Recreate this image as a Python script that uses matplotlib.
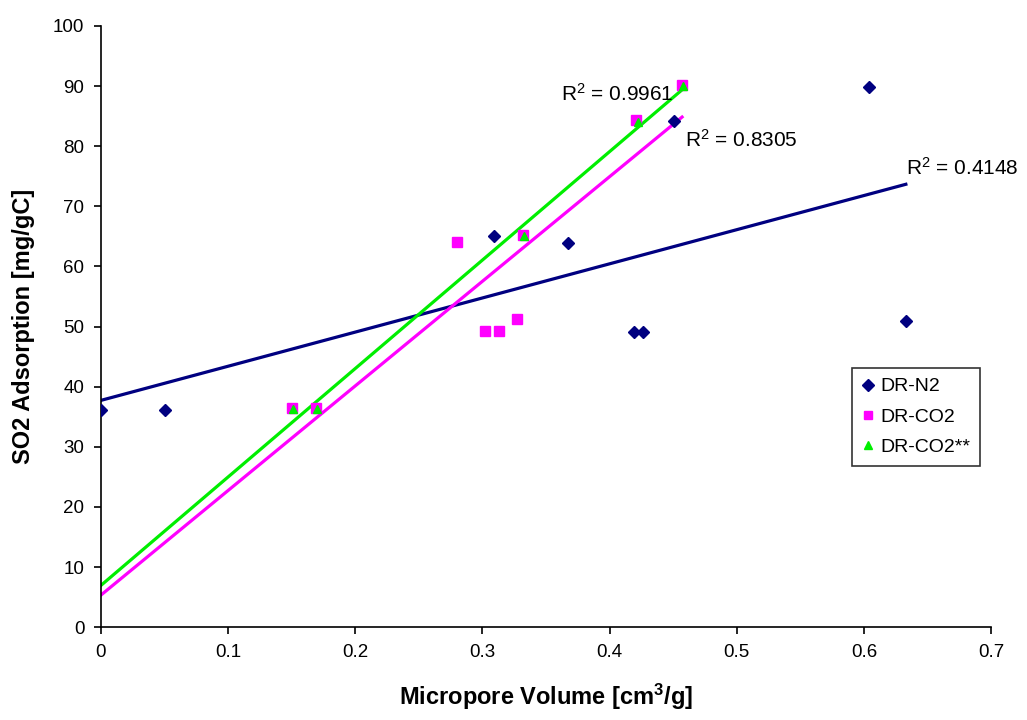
import matplotlib.pyplot as plt
import numpy as np

plt.rcParams['font.family'] = ['Liberation Sans', 'DejaVu Sans']

# DR-N2
n2_x = np.array([0.0, 0.05, 0.309, 0.367, 0.419, 0.426, 0.451, 0.604, 0.633])
n2_y = np.array([36.1, 36.1, 65.1, 63.9, 49.1, 49.1, 84.2, 89.9, 51.0])

# DR-CO2
co2_x = np.array([0.150, 0.169, 0.280, 0.302, 0.313, 0.327, 0.332, 0.421, 0.457])
co2_y = np.array([36.4, 36.4, 64.1, 49.3, 49.3, 51.2, 65.3, 84.4, 90.2])

# DR-CO2**
co2s_x = np.array([0.151, 0.170, 0.333, 0.422, 0.458])
co2s_y = np.array([36.2, 36.2, 65.0, 84.0, 90.0])

r2_labels = ['0.4148', '0.8305', '0.9961']

navy = '#000080'
magenta = '#ff00ff'
green = '#00ee00'

fig = plt.figure(figsize=(10.27, 7.2), dpi=100)
ax = fig.add_axes([0.0983, 0.129, 0.8667, 0.835])

ax.plot(n2_x, n2_y, 'D', color=navy, markersize=6.5, label='DR-N2', zorder=3)
ax.plot(co2_x, co2_y, 's', color=magenta, markersize=7, label='DR-CO2', zorder=3)
ax.plot(co2s_x, co2s_y, '^', color=green, markersize=6, label='DR-CO2**', zorder=4)

# linear trend lines, drawn from 0 to the last point
for xs, ys, c in [(n2_x, n2_y, navy), (co2_x, co2_y, magenta), (co2s_x, co2s_y, green)]:
    k, b = np.polyfit(xs, ys, 1)
    xx = np.array([0, xs.max()])
    ax.plot(xx, k * xx + b, color=c, linewidth=2.3, zorder=2)

ax.text(0.6335, 74.5, '$\\mathregular{R^2}$ = ' + r2_labels[0], fontsize=15, ha='left', va='bottom')
ax.text(0.459, 79.3, '$\\mathregular{R^2}$ = ' + r2_labels[1], fontsize=15, ha='left', va='bottom')
ax.text(0.3615, 86.8, '$\\mathregular{R^2}$ = ' + r2_labels[2], fontsize=15, ha='left', va='bottom')

ax.set_xlim(0, 0.7)
ax.set_ylim(0, 100)
ax.set_xticks(np.arange(0, 0.71, 0.1))
ax.set_xticklabels(['0', '0.1', '0.2', '0.3', '0.4', '0.5', '0.6', '0.7'])
ax.set_yticks(np.arange(0, 101, 10))
ax.tick_params(labelsize=13.5, direction='out', length=5, width=1.2, pad=7)
for s in ['top', 'right']:
    ax.spines[s].set_visible(False)
for s in ['left', 'bottom']:
    ax.spines[s].set_linewidth(1.2)

ax.set_xlabel('Micropore Volume [cm$\\mathregular{^3}$/g]', fontsize=17, fontweight='bold', labelpad=15)
ax.set_ylabel('SO2 Adsorption [mg/gC]', fontsize=17, fontweight='bold', labelpad=13)

leg = ax.legend(loc='upper left', bbox_to_anchor=(0.844, 0.431), fontsize=14, frameon=True,
                fancybox=False, edgecolor='black', handlelength=0.6, handletextpad=0.35,
                labelspacing=0.65, borderpad=0.5, borderaxespad=0, markerscale=0.9)
leg.get_frame().set_linewidth(1.2)

fig.savefig('out.png', dpi=100)
